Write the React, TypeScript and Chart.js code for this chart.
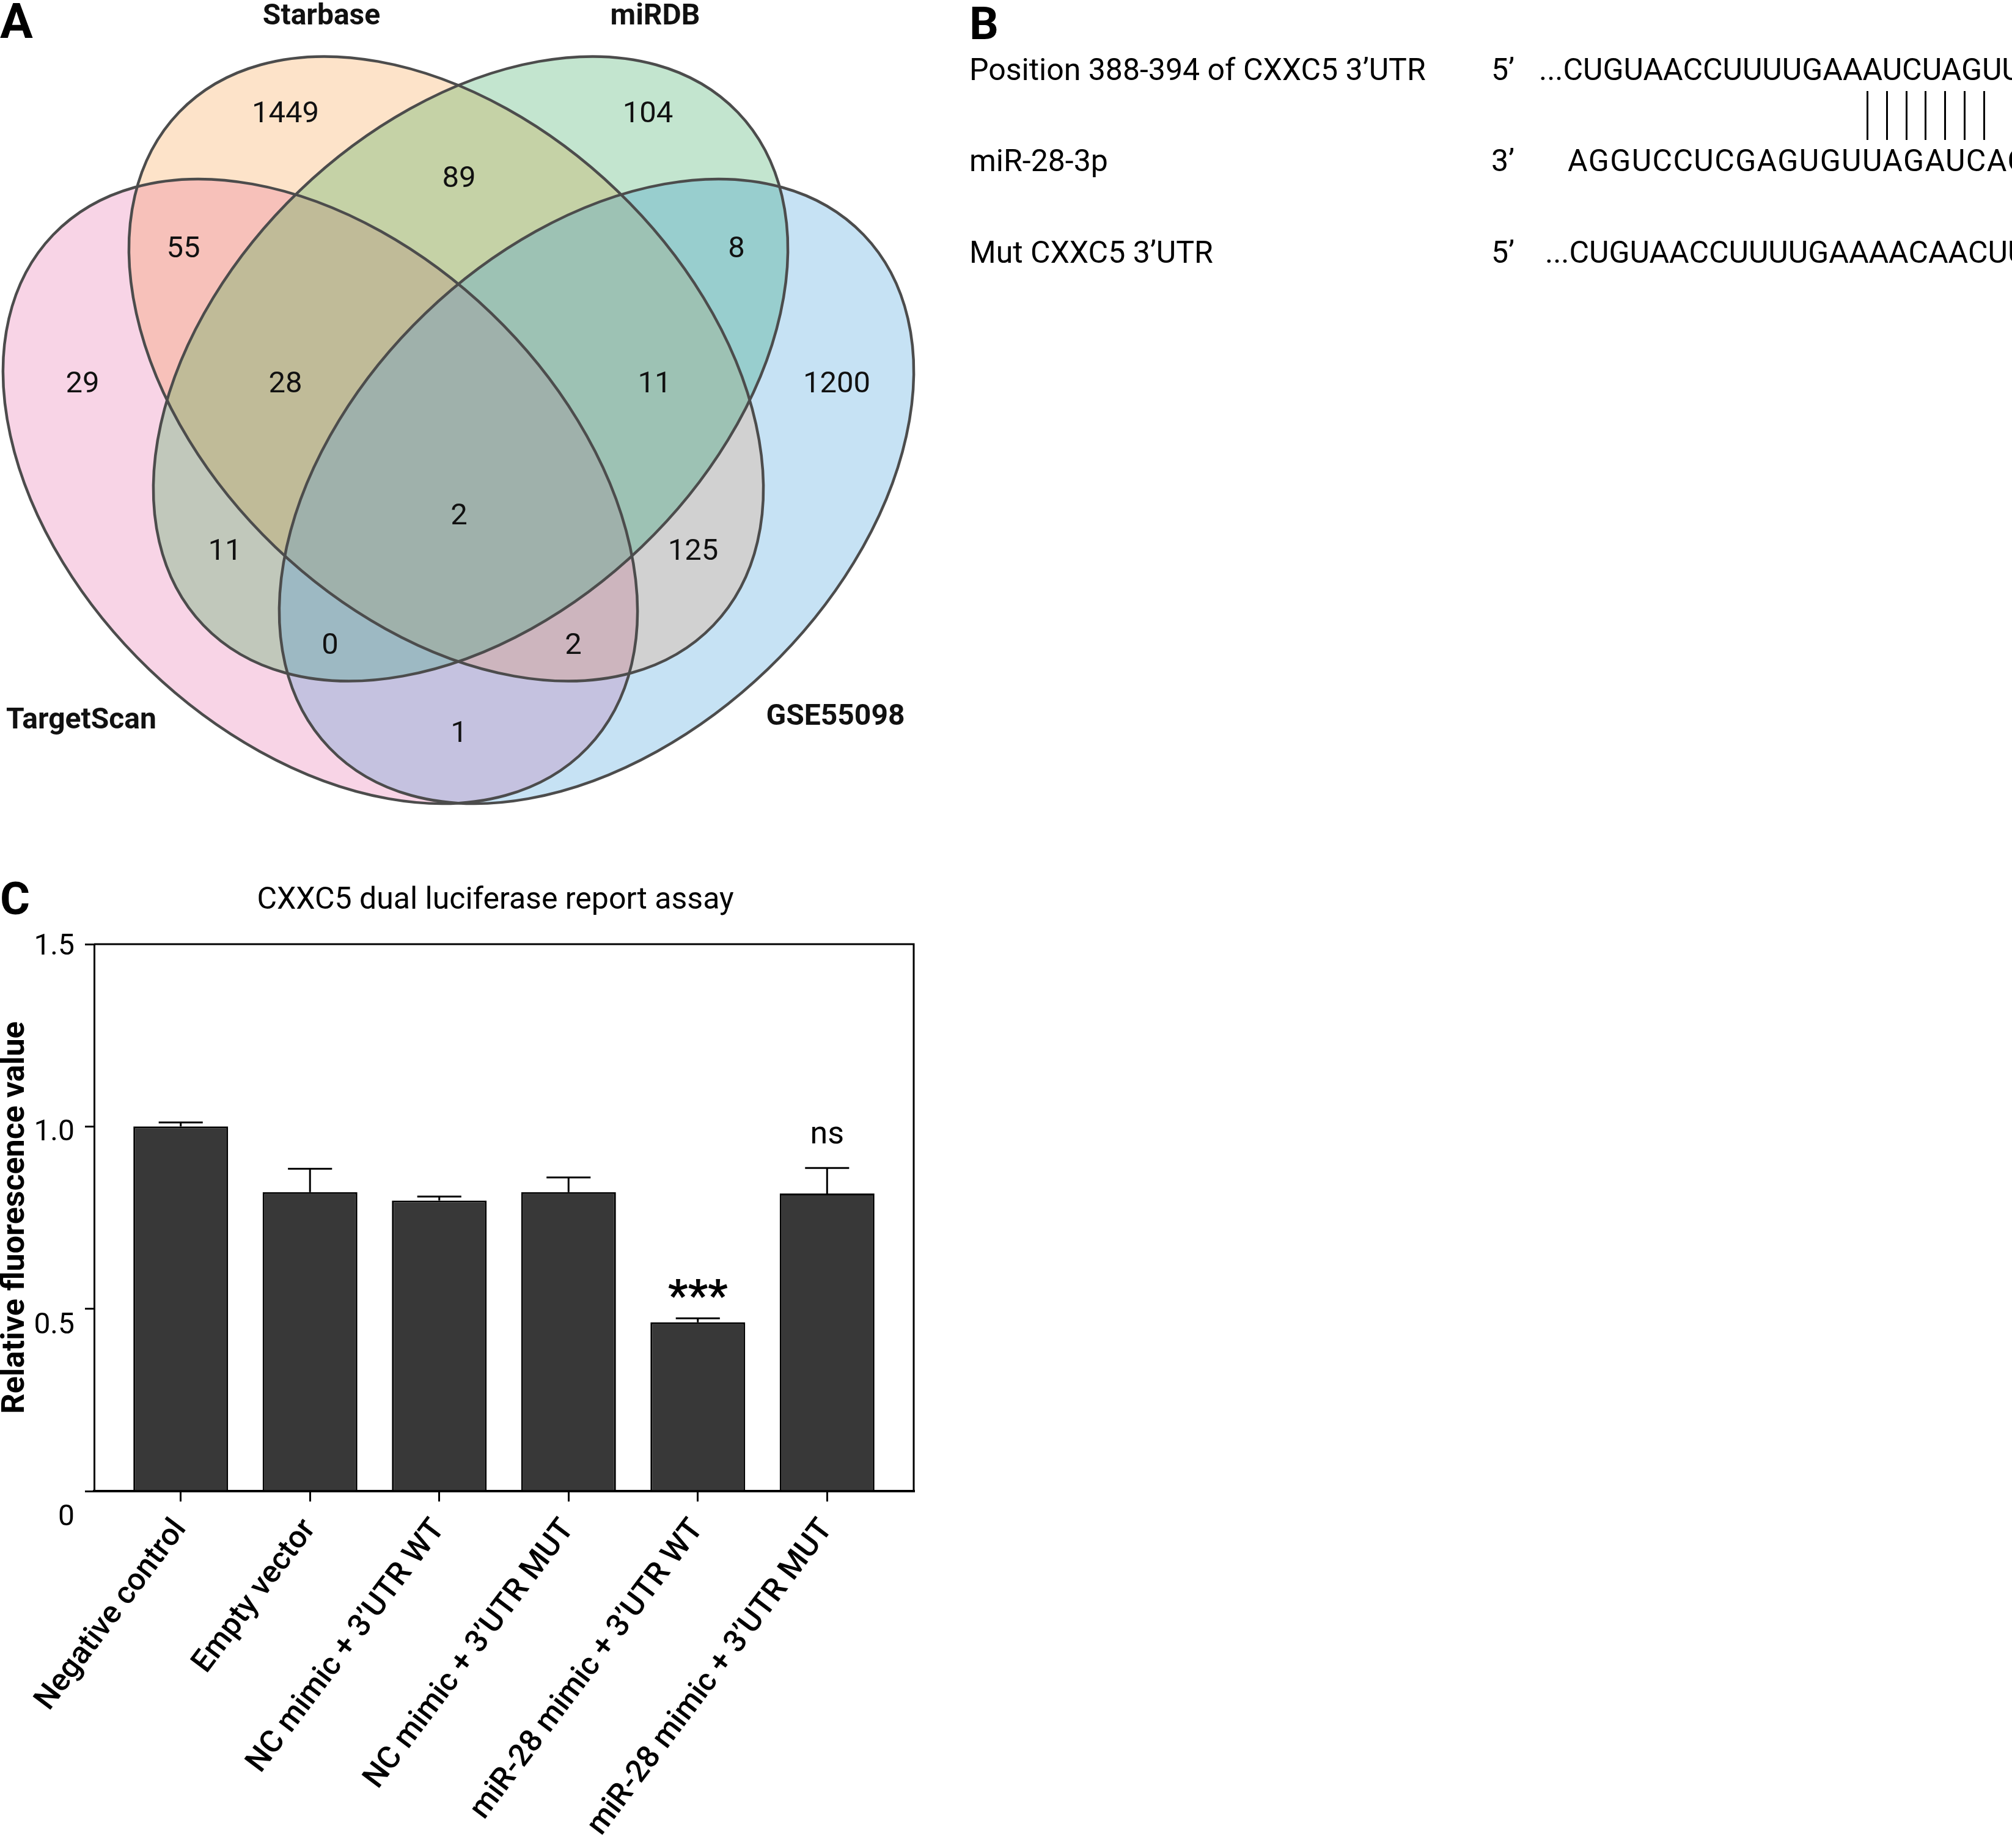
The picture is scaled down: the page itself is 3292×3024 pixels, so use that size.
import React, { useEffect, useRef } from 'react';
import { Chart, registerables } from 'chart.js';

Chart.register(...registerables);

const FONT = 'Roboto, "Noto Sans", "DejaVu Sans", sans-serif';

// ---------- Panel A: Venn data ----------
const vennSetNames = ['TargetScan', 'Starbase', 'miRDB', 'GSE55098'];
// region membership bitmask: 1 TargetScan, 2 Starbase, 4 miRDB, 8 GSE55098
const vennRegionMasks = [1, 2, 4, 8, 3, 6, 12, 5, 10, 9, 7, 14, 13, 11, 15];
const vennRegionCounts = [29, 1449, 104, 1200, 55, 89, 8, 11, 125, 1, 28, 11, 0, 2, 2];

// ---------- Panel A: layout (data space = canvas pixels) ----------
const vennEllipses = [
  { cx: 524, cy: 804, rx: 606, ry: 404, rot: 43.84 },
  { cx: 730, cy: 603.5, rx: 606, ry: 404, rot: 43.84 },
  { cx: 770, cy: 603.5, rx: 606, ry: 404, rot: -43.84 },
  { cx: 976, cy: 804, rx: 606, ry: 404, rot: -43.84 },
];
const vennCountAnchors = [
  [135, 625], [467, 183], [1060, 183], [1369, 625], [300, 404], [751, 289], [1205, 404],
  [368, 899], [1134, 899], [751, 1197], [467, 625], [1071, 625], [540, 1053], [938, 1053], [751, 841],
];
const vennSetLabelAnchors = [[133, 1192], [526, 40], [1072, 40], [1367, 1186]];
const vennRegionColors = [
  '#F8D4E6', '#FDE3C9', '#C3E5CF', '#C6E2F4', '#F7C1BA', '#C5D2A6', '#98CECE',
  '#C1C8BB', '#D1D1D1', '#C5C2E0', '#C0BB98', '#9DC2B4', '#9DB9C3', '#CDB5BE', '#9FB1AB',
];

// ---------- Panel B: sequences ----------
const seqRowLabels = ['Position 388-394 of CXXC5 3’UTR', 'miR-28-3p', 'Mut CXXC5 3’UTR'];
const seqRowEnds = ['5’', '3’', '5’'];
const seqRowSequences = ['...CUGUAACCUUUUGAAAUCUAGUU', 'AGGUCCUCGAGUGUUAGAUCAC', '...CUGUAACCUUUUGAAAACAACUU'];
const seedPairCount = 7;

// ---------- Panel C: bar chart data ----------
const barCategories = [
  'Negative control',
  'Empty vector',
  'NC mimic + 3’UTR WT',
  'NC mimic + 3’UTR MUT',
  'miR-28 mimic + 3’UTR WT',
  'miR-28 mimic + 3’UTR MUT',
];
const barMeans = [1.0, 0.82, 0.797, 0.82, 0.463, 0.816];
const barErrors = [0.011, 0.064, 0.011, 0.04, 0.011, 0.07];
const barAnnotations = ['', '', '', '', '***', 'ns'];
const yTickValues = [0, 0.5, 1.0, 1.5];
const yTickLabels = ['0', '0.5', '1.0', '1.5'];
const yTickLabelOffsets = [39, 23, 6, 0];

const popcount = (m: number) => ((m & 1) + ((m >> 1) & 1) + ((m >> 2) & 1) + ((m >> 3) & 1));

function ellipsePath(ctx: CanvasRenderingContext2D, chart: any, e: any) {
  const xs = chart.scales.x;
  const ys = chart.scales.y;
  const cx = xs.getPixelForValue(e.cx);
  const cy = ys.getPixelForValue(e.cy);
  const rx = Math.abs(xs.getPixelForValue(e.cx + e.rx) - cx);
  const ry = Math.abs(xs.getPixelForValue(e.cx + e.ry) - cx);
  ctx.beginPath();
  ctx.ellipse(cx, cy, rx, ry, (e.rot * Math.PI) / 180, 0, Math.PI * 2);
}

const vennPlugin = {
  id: 'venn',
  beforeDatasetsDraw(chart: any) {
    const ctx: CanvasRenderingContext2D = chart.ctx;
    const order = vennRegionMasks.map((m, i) => i).sort((a, b) => popcount(vennRegionMasks[a]) - popcount(vennRegionMasks[b]));
    order.forEach((r) => {
      ctx.save();
      for (let s = 0; s < 4; s++) {
        if (vennRegionMasks[r] & (1 << s)) {
          ellipsePath(ctx, chart, vennEllipses[s]);
          ctx.clip();
        }
      }
      ctx.fillStyle = vennRegionColors[r];
      ctx.fillRect(0, 0, chart.width, chart.height);
      ctx.restore();
    });
    ctx.save();
    ctx.strokeStyle = '#4c4c4c';
    ctx.lineWidth = 4.5;
    vennEllipses.forEach((e) => {
      ellipsePath(ctx, chart, e);
      ctx.stroke();
    });
    ctx.restore();
  },
  afterDatasetsDraw(chart: any) {
    const ctx: CanvasRenderingContext2D = chart.ctx;
    const meta = chart.getDatasetMeta(0);
    ctx.save();
    ctx.fillStyle = '#111';
    ctx.textAlign = 'center';
    ctx.textBaseline = 'alphabetic';
    ctx.font = `400 49px ${FONT}`;
    meta.data.forEach((pt: any, i: number) => {
      ctx.fillText(String(vennRegionCounts[i]), pt.x, pt.y + 17);
    });
    ctx.font = `700 48px ${FONT}`;
    const xs = chart.scales.x;
    const ys = chart.scales.y;
    vennSetNames.forEach((name, i) => {
      const [x, y] = vennSetLabelAnchors[i];
      ctx.fillText(name, xs.getPixelForValue(x), ys.getPixelForValue(y));
    });
    ctx.restore();
  },
};

const barPlugin = {
  id: 'barExtras',
  afterDatasetsDraw(chart: any) {
    const ctx: CanvasRenderingContext2D = chart.ctx;
    const { chartArea } = chart;
    const ys = chart.scales.y;
    const meta = chart.getDatasetMeta(0);
    ctx.save();
    ctx.strokeStyle = '#000';
    ctx.lineWidth = 3;
    ctx.beginPath();
    ctx.moveTo(chartArea.left, chartArea.top);
    ctx.lineTo(chartArea.right, chartArea.top);
    ctx.lineTo(chartArea.right, chartArea.bottom);
    ctx.stroke();

    meta.data.forEach((bar: any, i: number) => {
      const top = ys.getPixelForValue(barMeans[i] + barErrors[i]);
      const base = ys.getPixelForValue(barMeans[i]);
      const w = bar.width * 0.465;
      ctx.beginPath();
      ctx.moveTo(bar.x, base);
      ctx.lineTo(bar.x, top);
      ctx.moveTo(bar.x - w / 2, top);
      ctx.lineTo(bar.x + w / 2, top);
      ctx.stroke();
      const ann = barAnnotations[i];
      if (ann === '***') {
        ctx.fillStyle = '#000';
        ctx.textAlign = 'center';
        ctx.font = `700 72px ${FONT}`;
        ctx.fillText(ann, bar.x, top - 12);
      } else if (ann) {
        ctx.fillStyle = '#000';
        ctx.textAlign = 'center';
        ctx.font = `400 52px ${FONT}`;
        ctx.fillText(ann, bar.x, top - 40);
      }
    });

    // y tick labels
    ctx.fillStyle = '#000';
    ctx.textAlign = 'right';
    ctx.font = `400 48px ${FONT}`;
    yTickValues.forEach((v, i) => {
      const py = ys.getPixelForValue(v) + yTickLabelOffsets[i];
      ctx.fillText(yTickLabels[i], chartArea.left - 32, py + 17);
    });

    // title
    ctx.textAlign = 'center';
    ctx.font = `400 50px ${FONT}`;
    ctx.fillText('CXXC5 dual luciferase report assay', (chartArea.left + chartArea.right) / 2 - 14, chartArea.top - 58);
    ctx.restore();
  },
};

function Txt(props: { left: number; baseline: number; size: number; weight?: number; spacing?: number; children: any }) {
  const { left, baseline, size, weight = 400, spacing = 0, children } = props;
  return (
    <div
      style={{
        position: 'absolute',
        left,
        top: baseline - 0.842 * size,
        fontSize: size,
        lineHeight: `${size}px`,
        fontWeight: weight,
        letterSpacing: spacing,
        whiteSpace: 'nowrap',
        fontFamily: FONT,
        color: '#000',
      }}
    >
      {children}
    </div>
  );
}

export default function App() {
  const vennRef = useRef<HTMLCanvasElement>(null);
  const barRef = useRef<HTMLCanvasElement>(null);

  useEffect(() => {
    const venn = new Chart(vennRef.current as HTMLCanvasElement, {
      type: 'scatter',
      data: {
        datasets: [
          {
            data: vennCountAnchors.map(([x, y]) => ({ x, y })),
            pointRadius: 0,
            pointHoverRadius: 0,
          },
        ],
      },
      options: {
        animation: false,
        responsive: false,
        devicePixelRatio: 1,
        events: [],
        layout: { padding: 0 },
        plugins: { legend: { display: false }, tooltip: { enabled: false } },
        scales: {
          x: { type: 'linear', display: false, min: 0, max: 1560 },
          y: { type: 'linear', display: false, min: 0, max: 1360, reverse: true },
        },
      },
      plugins: [vennPlugin],
    } as any);

    const bar = new Chart(barRef.current as HTMLCanvasElement, {
      type: 'bar',
      data: {
        datasets: [
          {
            data: barMeans.map((v, i) => ({ x: i, y: v })),
            backgroundColor: '#383838',
            borderColor: '#000',
            borderWidth: 3,
            categoryPercentage: 1,
            barPercentage: 0.733,
          },
        ],
      },
      options: {
        animation: false,
        responsive: false,
        devicePixelRatio: 1,
        events: [],
        layout: { padding: { top: 145, right: 65, left: 0, bottom: 0 } },
        plugins: { legend: { display: false }, tooltip: { enabled: false } },
        scales: {
          x: {
            type: 'linear',
            min: -0.67,
            max: 5.67,
            offset: false,
            afterBuildTicks: (scale: any) => {
              scale.ticks = barCategories.map((_, i) => ({ value: i }));
            },
            afterFit: (scale: any) => {
              scale.height = 584;
            },
            grid: { display: true, drawOnChartArea: false, drawTicks: true, tickLength: 17, lineWidth: 3, color: '#000', offset: false },
            border: { display: true, color: '#000', width: 4 },
            ticks: {
              autoSkip: false,
              minRotation: 53,
              maxRotation: 53,
              padding: 18,
              color: '#000',
              font: { family: FONT, size: 51, weight: 500 },
              callback: (v: any) => barCategories[v] ?? '',
            },
          },
          y: {
            type: 'linear',
            min: 0,
            max: 1.5,
            afterBuildTicks: (scale: any) => {
              scale.ticks = yTickValues.map((v) => ({ value: v }));
            },
            afterFit: (scale: any) => {
              scale.width = 154;
            },
            grid: { display: true, drawOnChartArea: false, drawTicks: true, tickLength: 15, lineWidth: 3, color: '#000' },
            border: { display: true, color: '#000', width: 3 },
            ticks: { display: false },
            title: {
              display: true,
              text: 'Relative fluorescence value',
              color: '#000',
              font: { family: FONT, size: 52, weight: 700, lineHeight: 1 },
              padding: 0,
            },
          },
        },
      },
      plugins: [barPlugin],
    } as any);

    return () => {
      venn.destroy();
      bar.destroy();
    };
  }, []);

  const rowBaselines = [131, 280, 430];
  const seqLefts = [2518, 2565, 2528];
  const seqSpacing = [0, 1.4, 0];

  return (
    <div style={{ position: 'absolute', left: 0, top: 0, width: 3292, height: 3024, overflow: 'hidden', background: '#fff' }}>
      <canvas ref={vennRef} width={1560} height={1360} style={{ position: 'absolute', left: 0, top: 0, width: 1560, height: 1360 }} />
      <canvas ref={barRef} width={1560} height={1624} style={{ position: 'absolute', left: 0, top: 1400, width: 1560, height: 1624 }} />
      <Txt left={0} baseline={62} size={80} weight={700}>A</Txt>
      <Txt left={1586} baseline={64} size={75} weight={700}>B</Txt>
      <Txt left={0} baseline={1496} size={75} weight={700}>C</Txt>
      {seqRowLabels.map((t, i) => (
        <Txt key={'l' + i} left={1586} baseline={rowBaselines[i]} size={50}>{t}</Txt>
      ))}
      {seqRowEnds.map((t, i) => (
        <Txt key={'e' + i} left={2440} baseline={rowBaselines[i]} size={50}>{t}</Txt>
      ))}
      {seqRowSequences.map((t, i) => (
        <Txt key={'s' + i} left={seqLefts[i]} baseline={rowBaselines[i]} size={50} spacing={seqSpacing[i]}>{t}</Txt>
      ))}
      {Array.from({ length: seedPairCount }, (_, i) => (
        <div key={'p' + i} style={{ position: 'absolute', left: 3054 + i * 31.8, top: 149, width: 3, height: 80, background: '#000' }} />
      ))}
    </div>
  );
}
